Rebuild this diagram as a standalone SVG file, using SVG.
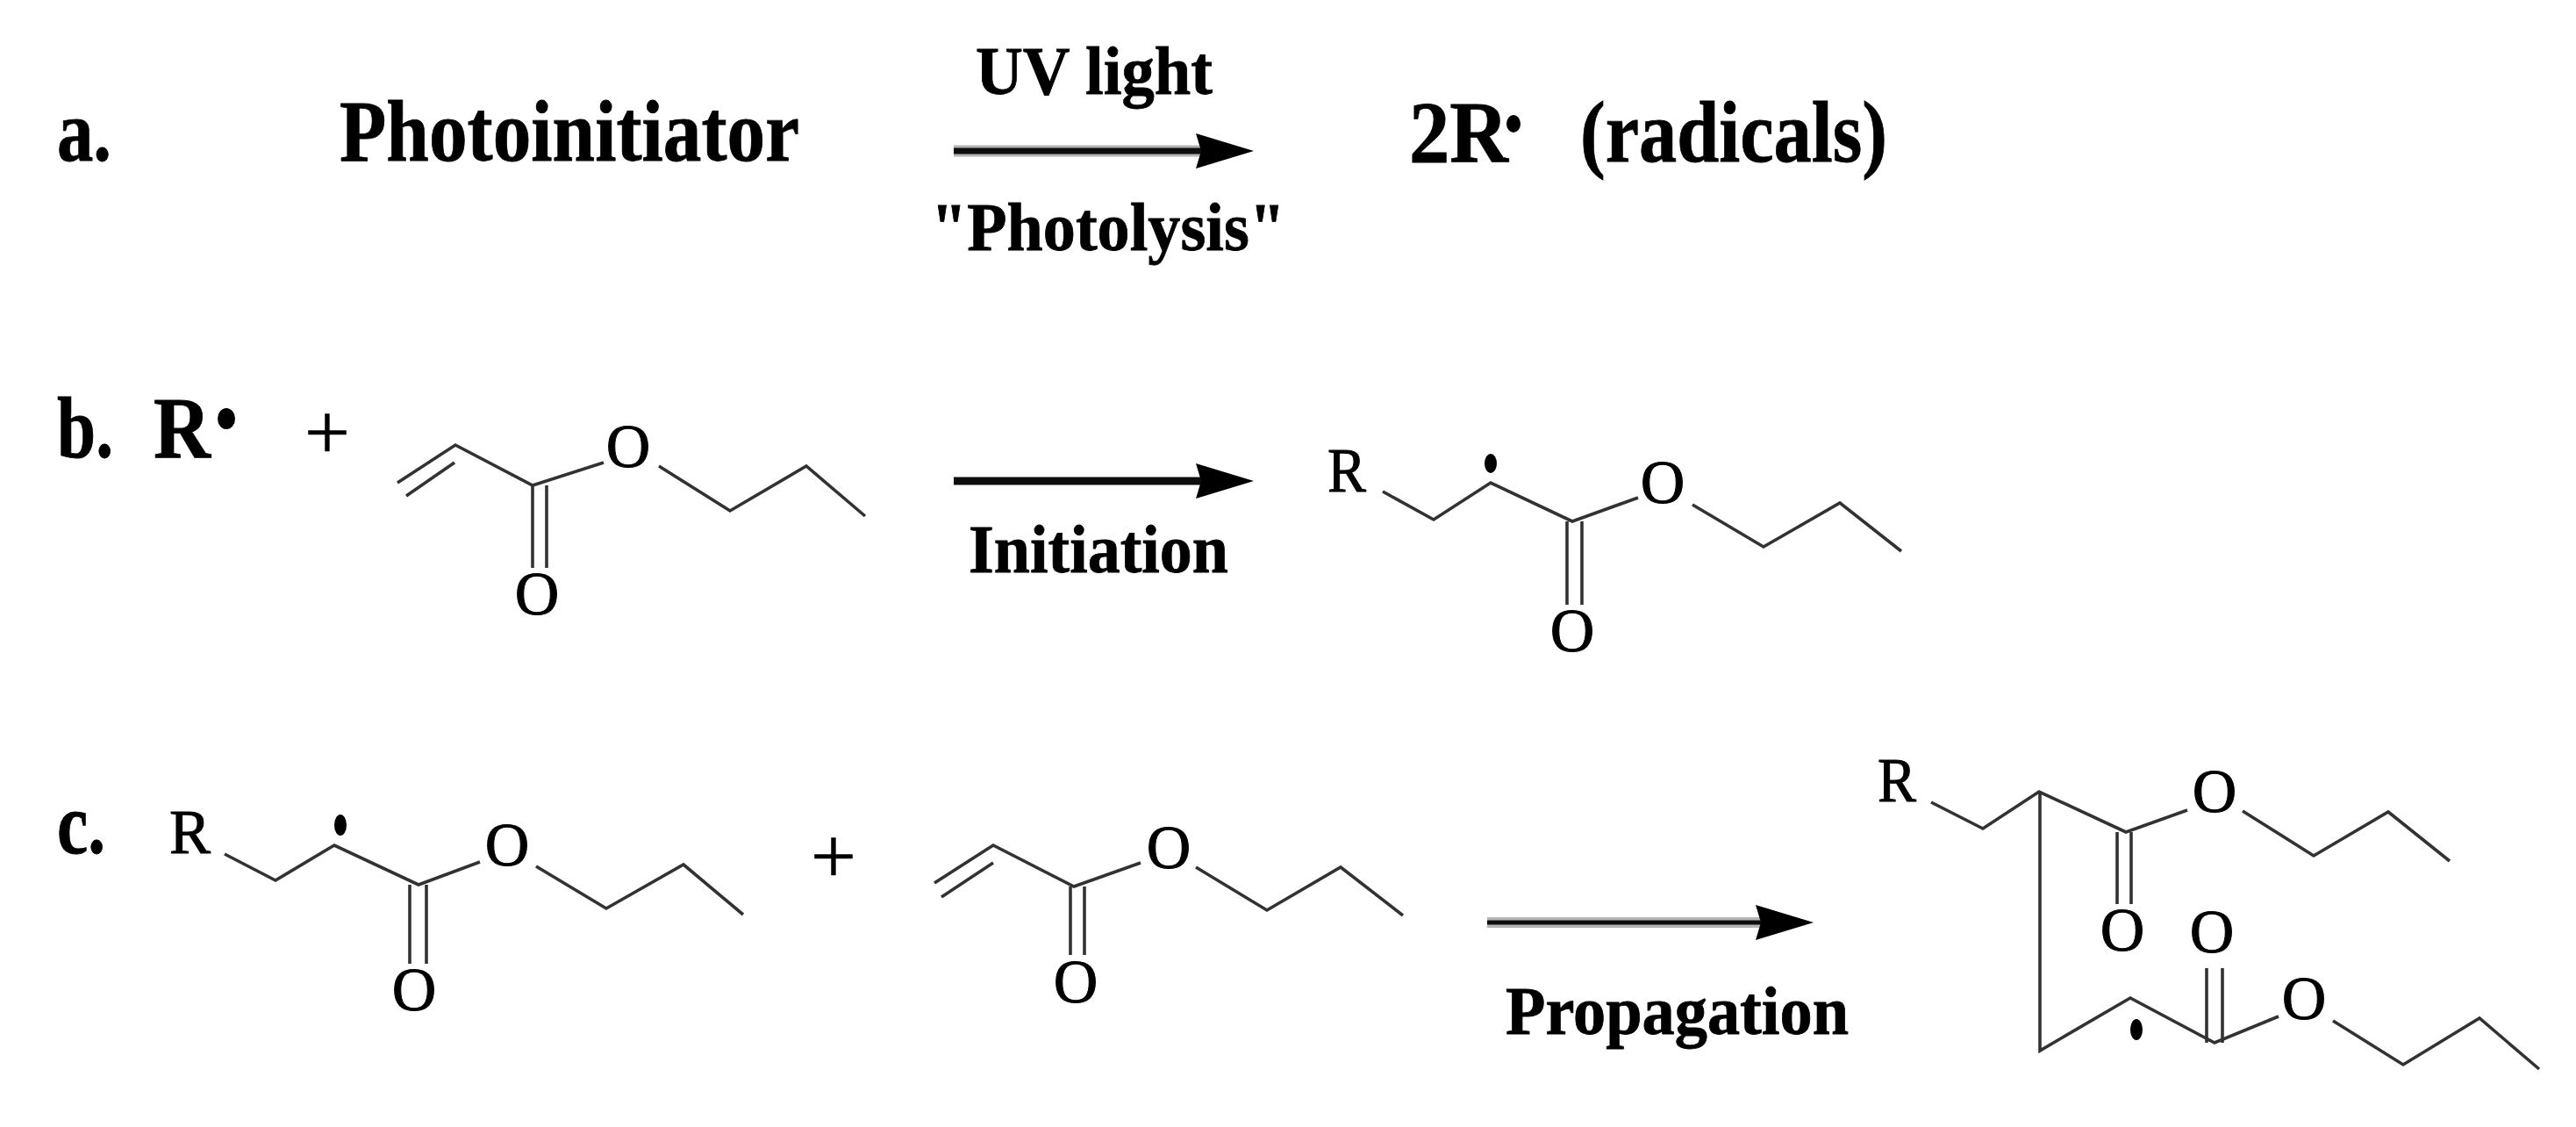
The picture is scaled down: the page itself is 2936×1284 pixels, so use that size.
<svg xmlns="http://www.w3.org/2000/svg" width="2936" height="1284" viewBox="0 0 2936 1284">
<style>
text{font-family:"Liberation Serif","Times New Roman",serif;fill:#000}
.b{font-weight:bold;stroke:#000;stroke-width:0.8}
.big{font-size:100px}
.lab{font-size:78px}
.atom{font-size:70px;text-anchor:middle;stroke:#000;stroke-width:1}
.r{font-size:72px;stroke:#000;stroke-width:1}
.plus{font-size:92px;text-anchor:middle;stroke:#000;stroke-width:0.6}
.bond{fill:none;stroke:#333;stroke-width:3.6;stroke-linejoin:miter}
.halo{stroke:#b4b4b4;fill:none}
.arrow{stroke:#111;fill:none}
.head{fill:#000}
.soft{filter:url(#soft)}
</style>
<defs>
<filter id="soft" x="0" y="0" width="2936" height="1284" filterUnits="userSpaceOnUse"><feGaussianBlur stdDeviation="0.7"/></filter>
<path id="ah" class="head" d="M-66,-20 L0,0 L-66,20 L-60,0 Z"/>
</defs>
<rect width="2936" height="1284" fill="#fff"/>
<g class="soft">
<g id="connectors">
<line class="halo" stroke-width="13" x1="1087" y1="172" x2="1372" y2="172"/>
<line class="arrow" stroke-width="7" x1="1087" y1="172" x2="1372" y2="172"/><use href="#ah" x="1429" y="172"/>
<line class="arrow" stroke="#333" stroke-width="9" x1="1087" y1="548" x2="1372" y2="548"/><use href="#ah" x="1429" y="548"/>
<line class="halo" stroke-width="12" x1="1695" y1="1051" x2="2010" y2="1051"/>
<line class="arrow" stroke-width="5" x1="1695" y1="1051" x2="2010" y2="1051"/><use href="#ah" x="2067" y="1051"/>
</g>
<g id="row-a">
<text class="b big" x="65" y="183" textLength="62" lengthAdjust="spacingAndGlyphs">a.</text>
<text class="b big" x="387" y="183" textLength="524" lengthAdjust="spacingAndGlyphs">Photoinitiator</text>
<text class="b lab" x="1112" y="107" textLength="270" lengthAdjust="spacingAndGlyphs">UV light</text>
<text class="b lab" x="1061" y="285" textLength="404" lengthAdjust="spacingAndGlyphs">"Photolysis"</text>
<text class="b big" x="1606" y="184" textLength="113" lengthAdjust="spacingAndGlyphs">2R</text>
<ellipse cx="1725" cy="141" rx="8" ry="10"/>
<text class="b big" x="1801" y="184" textLength="350" lengthAdjust="spacingAndGlyphs">(radicals)</text>
</g>
<g id="row-b-reactants">
<text class="b big" x="65" y="521" textLength="64" lengthAdjust="spacingAndGlyphs">b.</text>
<text class="b big" x="175" y="521" textLength="65" lengthAdjust="spacingAndGlyphs">R</text>
<ellipse cx="258" cy="477" rx="10" ry="12"/>
<text class="plus" x="373" y="523">+</text>
</g>
<g id="acrylate-b">
<path class="bond" d="M453,550 L519,507 L607,553 L688,527"/>
<path class="bond" d="M463,565 L518,527"/>
<path class="bond" d="M751,531 L832,582 L919,531 L986,588"/>
<path class="bond" d="M607,553 V647 M623,553 V647"/>
<text class="atom" x="716" y="532">O</text>
<text class="atom" x="612" y="700">O</text>
</g>
<g id="label-initiation">
<text class="b lab" x="1104" y="652" textLength="296" lengthAdjust="spacingAndGlyphs">Initiation</text>
</g>
<g id="product-b">
<text class="r" x="1513" y="560" textLength="44" lengthAdjust="spacingAndGlyphs">R</text>
<path class="bond" d="M1576,560 L1634,592 L1699,550 L1792,594 L1867,567"/>
<path class="bond" d="M1929,575 L2010,623 L2097,573 L2167,628"/>
<path class="bond" d="M1786,594 V689 M1803,594 V689"/>
<ellipse cx="1699" cy="528" rx="7" ry="11"/>
<text class="atom" x="1895" y="573">O</text>
<text class="atom" x="1792" y="742">O</text>
</g>
<g id="row-c-reactant-1">
<text class="b big" x="65" y="972" textLength="55" lengthAdjust="spacingAndGlyphs">c.</text>
<text class="r" x="193" y="972" textLength="47" lengthAdjust="spacingAndGlyphs">R</text>
<path class="bond" d="M256,973 L314,1003 L381,963 L477,1008 L547,982"/>
<path class="bond" d="M611,987 L691,1035 L779,985 L847,1042"/>
<path class="bond" d="M467,1008 V1098 M486,1008 V1098"/>
<ellipse cx="388" cy="940" rx="7" ry="12"/>
<text class="atom" x="578" y="986">O</text>
<text class="atom" x="472" y="1151">O</text>
<text class="plus" x="950" y="1006">+</text>
</g>
<g id="acrylate-c">
<path class="bond" d="M1065,1006 L1132,963 L1224,1010 L1300,983"/>
<path class="bond" d="M1073,1022 L1132,983"/>
<path class="bond" d="M1363,988 L1444,1037 L1528,988 L1599,1043"/>
<path class="bond" d="M1220,1010 V1088 M1236,1010 V1088"/>
<text class="atom" x="1332" y="989">O</text>
<text class="atom" x="1226" y="1142">O</text>
</g>
<g id="label-propagation">
<text class="b lab" x="1716" y="1178" textLength="391" lengthAdjust="spacingAndGlyphs">Propagation</text>
</g>
<g id="product-c">
<text class="r" x="2140" y="913" textLength="44" lengthAdjust="spacingAndGlyphs">R</text>
<path class="bond" d="M2201,914 L2260,944 L2324,902 L2423,948 L2493,923"/>
<path class="bond" d="M2556,924 L2637,975 L2722,925 L2792,981"/>
<path class="bond" d="M2413,948 V1030 M2429,948 V1030"/>
<path class="bond" d="M2325,902 V1197 L2428,1137 L2524,1188 L2597,1158"/>
<path class="bond" d="M2659,1163 L2739,1213 L2826,1160 L2894,1218"/>
<path class="bond" d="M2515,1103 V1188 M2533,1103 V1188"/>
<ellipse cx="2435" cy="1173" rx="7" ry="12"/>
<text class="atom" x="2524" y="925">O</text>
<text class="atom" x="2419" y="1083">O</text>
<text class="atom" x="2521" y="1085">O</text>
<text class="atom" x="2626" y="1161">O</text>
</g>
</g>
</svg>
